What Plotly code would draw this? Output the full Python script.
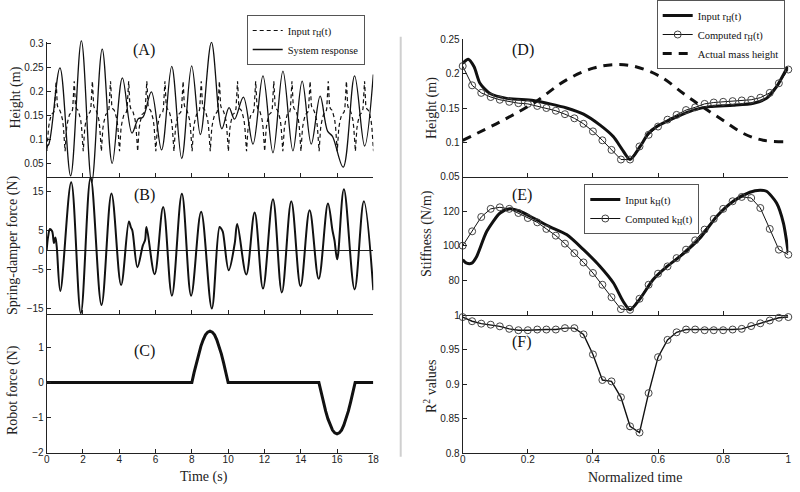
import plotly.graph_objects as go

W, H = 800, 492

# ---------------- data ----------------
# Panel A: system response (m) vs time (s)
resp_t = [0, 0.12, 0.73, 1.32, 1.91, 2.48, 3.06, 3.61, 4.17, 4.70, 5.05, 5.30, 5.77, 6.33, 6.89, 7.44,
          7.99, 8.47, 9.08, 9.65, 10.05, 10.35, 10.84, 11.37, 11.92, 12.47, 13.02, 13.57, 14.08, 14.58,
          15.07, 15.48, 15.75, 16.34, 16.97, 17.52, 18.0]
resp_v = [0.085, 0.09, 0.249, 0.024, 0.305, 0.010, 0.288, 0.050, 0.228, 0.113, 0.143, 0.146, 0.199, 0.078,
          0.252, 0.060, 0.253, 0.110, 0.302, 0.122, 0.166, 0.142, 0.188, 0.090, 0.232, 0.072, 0.242, 0.076,
          0.221, 0.090, 0.190, 0.117, 0.106, 0.042, 0.232, 0.086, 0.235]

# Input r_H(t): one period as drawn in panel D (normalized time), repeated every second in panel A
rH_u = [0, 0.017, 0.035, 0.053, 0.084, 0.135, 0.217, 0.268, 0.319, 0.371, 0.422, 0.463, 0.488, 0.514,
        0.545, 0.570, 0.596, 0.657, 0.708, 0.759, 0.831, 0.893, 0.933, 0.964, 0.998]
rH_v = [0.215, 0.221, 0.210, 0.186, 0.171, 0.164, 0.161, 0.156, 0.150, 0.141, 0.125, 0.108, 0.091, 0.075,
        0.094, 0.113, 0.123, 0.137, 0.147, 0.152, 0.154, 0.157, 0.164, 0.181, 0.210]
input_period_s = 1.0
input_phase_s = -0.5
input_cycles = list(range(0, 19))

# Panel B: spring-damper force (N)
force_t = [0, 0.08, 0.18, 0.30, 0.40, 0.48, 0.55, 0.75, 1.35, 1.88, 2.42, 3.02, 3.57, 4.10, 4.53, 4.64,
           4.72, 5.00, 5.30, 5.42, 5.50, 5.95, 6.42, 6.90, 7.45, 7.96, 8.51, 9.10, 9.53, 9.63, 9.71, 10.03,
           10.36, 10.50, 11.00, 11.46, 11.92, 12.47, 12.96, 13.48, 13.99, 14.49, 14.99, 15.50, 15.75,
           15.86, 16.01, 16.38, 16.97, 17.48, 18.0]
force_v = [0, 3.5, 5.4, 4.8, 1.8, 3.2, 1.0, -10.5, 17.4, -16.2, 18.6, -14.1, 14.5, -9.0, 7.3, 5.8,
           5.0, -4.4, 1.2, 2.5, 5.9, -6.2, 11.0, -11.7, 14.4, -11.7, 9.8, -15.0, 5.9, 5.4, 4.6, -5.2,
           1.6, 6.7, -6.3, 9.6, -9.9, 13.0, -10.9, 12.5, -9.3, 10.2, -7.4, 11.9, 5.0,
           2.5, -2.4, 15.6, -10.1, 12.5, -10.3]

# Panel C: robot force (N)
robot_t = [0, 8, 8.125, 8.25, 8.375, 8.5, 8.625, 8.75, 8.875, 9, 9.125, 9.25, 9.375, 9.5, 9.625, 9.75,
           9.875, 10, 15, 15.125, 15.25, 15.375, 15.5, 15.625, 15.75, 15.875, 16, 16.125, 16.25, 16.375,
           16.5, 16.625, 16.75, 16.875, 17, 18]
robot_v = [0, 0, 0.29, 0.56, 0.82, 1.04, 1.22, 1.36, 1.44, 1.47, 1.44, 1.36, 1.22, 1.04, 0.82, 0.56,
           0.29, 0, 0, -0.29, -0.56, -0.82, -1.04, -1.22, -1.36, -1.44, -1.47, -1.44, -1.36, -1.22,
           -1.04, -0.82, -0.56, -0.29, 0, 0]

# Right panels: normalized time of the computed samples
norm_u = [0, 0.029, 0.057, 0.086, 0.114, 0.143, 0.171, 0.2, 0.229, 0.257, 0.286, 0.314, 0.343, 0.371,
          0.4, 0.429, 0.457, 0.486, 0.514, 0.543, 0.571, 0.6, 0.629, 0.657, 0.686, 0.714, 0.743, 0.771,
          0.8, 0.829, 0.857, 0.886, 0.914, 0.943, 0.971, 1.0]

# Panel D
rc_v = [0.211, 0.183, 0.172, 0.166, 0.162, 0.159, 0.157, 0.156, 0.153, 0.150, 0.146, 0.141, 0.135, 0.127,
        0.116, 0.103, 0.089, 0.075, 0.075, 0.094, 0.111, 0.123, 0.133, 0.140, 0.147, 0.151, 0.156, 0.158,
        0.159, 0.160, 0.161, 0.162, 0.165, 0.172, 0.186, 0.206]
mass_u = [0, 0.115, 0.217, 0.319, 0.401, 0.463, 0.524, 0.606, 0.678, 0.729, 0.790, 0.862, 0.923, 0.985]
mass_v = [0.103, 0.130, 0.157, 0.191, 0.208, 0.213, 0.211, 0.196, 0.171, 0.154, 0.135, 0.113, 0.103, 0.101]

# Panel E
kin_u = [0, 0.012, 0.028, 0.043, 0.074, 0.115, 0.145, 0.176, 0.217, 0.268, 0.319, 0.371, 0.422, 0.463,
         0.493, 0.514, 0.545, 0.585, 0.626, 0.678, 0.729, 0.780, 0.831, 0.882, 0.913, 0.933, 0.964,
         0.985, 1.0]
kin_v = [92.0, 90.0, 90.0, 93.9, 108.4, 119.0, 121.4, 120.0, 116.1, 111.0, 106.5, 97.8, 88.1, 78.5,
         67.8, 63.0, 69.5, 80.5, 87.8, 95.5, 104.5, 117.0, 125.8, 131.0, 132.2, 131.6, 124.8,
         113.2, 95.8]
kc_v = [100.1, 108.4, 116.7, 121.4, 122.3, 121.4, 119.0, 116.1, 113.6, 109.8, 105.9, 101.3, 95.8, 90.4,
        84.3, 77.5, 70.3, 63.4, 63.0, 69.4, 77.5, 83.9, 88.1, 92.9, 97.8, 103.2, 109.4, 115.6, 121.4,
        125.8, 128.3, 127.7, 121.9, 109.8, 97.8, 94.9]

# Panel F
r2_v = [0.997, 0.991, 0.9875, 0.986, 0.9836, 0.980, 0.978, 0.978, 0.979, 0.979, 0.979, 0.981, 0.981,
        0.972, 0.943, 0.906, 0.904, 0.881, 0.839, 0.830, 0.887, 0.939, 0.964, 0.975, 0.979, 0.979,
        0.978, 0.978, 0.978, 0.979, 0.980, 0.984, 0.988, 0.992, 0.996, 0.997]

time_ticks = [0, 2, 4, 6, 8, 10, 12, 14, 16, 18]
norm_ticks = [0, 0.2, 0.4, 0.6, 0.8, 1]
norm_tick_text = ["0", "0.2", "0.4", "0.6", "0.8", "1"]

# ---------------- build input series for panel A ----------------
a_in_t = [k * input_period_s + input_phase_s + u * input_period_s for k in input_cycles for u in rH_u[:-1]]
a_in_v = [v for k in input_cycles for v in rH_v[:-1]]

# ---------------- layout helpers ----------------
def vy(py):
    return 1 - py / H

def vx(px):
    return px / W

LX = [vx(46.7), vx(373.3)]
RX = [vx(462.7), vx(788.3)]
INK = '#111'
SERIF = 'Liberation Serif, Times New Roman, serif'
SANS = 'Liberation Sans, Arial, sans-serif'

fig = go.Figure()

# empty traces so that the framed axes of panels A and B are drawn
for xa, ya in [('x', 'y'), ('x2', 'y2')]:
    fig.add_trace(go.Scatter(x=[None], y=[None], mode='lines', showlegend=False, hoverinfo='skip',
                             xaxis=xa, yaxis=ya))

# Panel A
fig.add_trace(go.Scatter(x=a_in_t, y=a_in_v, mode='lines', name='Input r<sub>H</sub>(t)',
                         line=dict(color=INK, width=1.2, dash='4px,3px'), xaxis='x', yaxis='y7',
                         legend='legend'))
fig.add_trace(go.Scatter(x=resp_t, y=resp_v, mode='lines', name='System response',
                         line=dict(color=INK, width=1.3, shape='spline', smoothing=1.0),
                         xaxis='x', yaxis='y7', legend='legend'))
# Panel B
fig.add_trace(go.Scatter(x=force_t, y=force_v, mode='lines', showlegend=False,
                         line=dict(color=INK, width=2, shape='spline', smoothing=1.0),
                         xaxis='x2', yaxis='y8'))
# Panel C
fig.add_trace(go.Scatter(x=robot_t, y=robot_v, mode='lines', showlegend=False,
                         line=dict(color=INK, width=3), xaxis='x3', yaxis='y3'))

marker_style = dict(symbol='circle-open', size=7, color='#444', line=dict(width=1, color='#444'))

# Panel D
fig.add_trace(go.Scatter(x=rH_u, y=rH_v, mode='lines', name='Input r<sub>H</sub>(t)',
                         line=dict(color=INK, width=3, shape='spline', smoothing=0.7),
                         xaxis='x4', yaxis='y4', legend='legend2'))
fig.add_trace(go.Scatter(x=norm_u, y=rc_v, mode='lines+markers', name='Computed r<sub>H</sub>(t)',
                         line=dict(color=INK, width=1), marker=marker_style, cliponaxis=False,
                         xaxis='x4', yaxis='y4', legend='legend2'))
fig.add_trace(go.Scatter(x=mass_u, y=mass_v, mode='lines', name='Actual mass height',
                         line=dict(color=INK, width=3, dash='9px,7px', shape='spline'),
                         xaxis='x4', yaxis='y4', legend='legend2'))
# Panel E
fig.add_trace(go.Scatter(x=kin_u, y=kin_v, mode='lines', name='Input k<sub>H</sub>(t)',
                         line=dict(color=INK, width=3, shape='spline', smoothing=0.7),
                         xaxis='x5', yaxis='y5', legend='legend3'))
fig.add_trace(go.Scatter(x=norm_u, y=kc_v, mode='lines+markers', name='Computed k<sub>H</sub>(t)',
                         line=dict(color=INK, width=1), marker=marker_style, cliponaxis=False,
                         xaxis='x5', yaxis='y5', legend='legend3'))
# Panel F
fig.add_trace(go.Scatter(x=norm_u, y=r2_v, mode='lines+markers', showlegend=False,
                         line=dict(color=INK, width=1.4), marker=marker_style, cliponaxis=False,
                         xaxis='x6', yaxis='y6'))

ax = dict(showgrid=False, zeroline=False, showline=True, linecolor='#222', linewidth=1,
          ticks='inside', ticklen=4, tickcolor='#222', tickwidth=1,
          tickfont=dict(family=SANS, size=10, color='#222'))

def xax(domain, rng, anchor, ticks, labels=None, show=False):
    d = dict(ax, domain=domain, range=rng, anchor=anchor, tickvals=ticks, showticklabels=show)
    if labels is not None:
        d['ticktext'] = labels
    if show:
        d['ticklabelstandoff'] = -3
    return d

def yax(py_top, py_bot, rng, anchor, ticks, labels):
    return dict(ax, domain=[vy(py_bot), vy(py_top)], range=rng, anchor=anchor,
                tickvals=ticks, ticktext=labels)

layout = dict(
    width=W, height=H, margin=dict(l=0, r=0, t=0, b=0, autoexpand=False),
    paper_bgcolor='white', plot_bgcolor='rgba(0,0,0,0)',
    font=dict(family=SERIF, color='#111'),
    xaxis=xax(LX, [0, 18], 'y', time_ticks),
    xaxis2=xax(LX, [0, 18], 'y2', time_ticks),
    xaxis3=xax(LX, [0, 18], 'y3', time_ticks, [str(t) for t in time_ticks], True),
    xaxis4=xax(RX, [0, 1], 'y4', norm_ticks, norm_tick_text),
    xaxis5=xax(RX, [0, 1], 'y5', norm_ticks, norm_tick_text),
    xaxis6=xax(RX, [0, 1], 'y6', norm_ticks, norm_tick_text, True),
    yaxis=yax(41.7, 177.3, [0.02083, 0.30333], 'x', [0.05, 0.1, 0.15, 0.2, 0.25, 0.3],
              ['0.05', '0.1', '0.15', '0.2', '0.25', '0.3']),
    yaxis2=yax(177.3, 314, [-16.41, 18.64], 'x2', [-15, -5, 0, 5, 15],
               ['\u221215', '\u22125', '0', '5', '15']),
    yaxis3=yax(314, 452.5, [-2, 1.957], 'x3', [-2, -1, 0, 1], ['\u22122', '\u22121', '0', '1']),
    yaxis4=yax(39.3, 176.7, [0.05, 0.25], 'x4', [0.05, 0.1, 0.15, 0.2, 0.25],
               ['0.05', '0.1', '0.15', '0.2', '0.25']),
    yaxis5=yax(176.7, 315, [60, 140], 'x5', [80, 100, 120], ['80', '100', '120']),
    yaxis6=yax(315, 453.3, [0.8, 1.0], 'x6', [0.8, 0.85, 0.9, 0.95, 1],
               ['0.8', '0.85', '0.9', '0.95', '1']),
    # data axes for A and B (same scale, taller window so curves may cross the frame line)
    yaxis7=dict(domain=[vy(195), vy(36)], range=[-0.01604, 0.31521], anchor='x', visible=False),
    yaxis8=dict(domain=[vy(320), vy(160)], range=[-17.95, 23.08], anchor='x2', visible=False),
)
fig.update_layout(**layout)
fig.update_layout(yaxis2=dict(zeroline=True, zerolinecolor='#222', zerolinewidth=1))

leg = dict(bgcolor='white', bordercolor='#555', borderwidth=1, xanchor='left', yanchor='top',
           font=dict(family=SERIF, size=10.5, color='#111'), tracegroupgap=0, itemwidth=30)
fig.update_layout(
    legend=dict(leg, x=vx(246.7), y=vy(15)),
    legend2=dict(leg, x=vx(656.7), y=vy(0)),
    legend3=dict(leg, x=vx(584.3), y=vy(184)),
)

ann = []
for txt, px, py in [('(A)', 144, 50), ('(B)', 144, 195), ('(C)', 144, 351),
                    ('(D)', 523, 50), ('(E)', 522, 195), ('(F)', 522, 342)]:
    ann.append(dict(text=txt, x=vx(px), y=vy(py), xref='paper', yref='paper', showarrow=False,
                    font=dict(family=SERIF, size=16, color='#111'), xanchor='center', yanchor='middle'))
for txt, px, py in [('Height (m)', 15.5, 98), ('Spring-damper force (N)', 13, 245),
                    ('Robot force (N)', 13, 390), ('Height (m)', 432, 108),
                    ('Stiffness (N/m)', 427, 233), ('R<sup>2</sup> values', 430, 386)]:
    ann.append(dict(text=txt, x=vx(px), y=vy(py), xref='paper', yref='paper', showarrow=False,
                    textangle=-90, font=dict(family=SERIF, size=14, color='#222'),
                    xanchor='center', yanchor='middle'))
for txt, px, py in [('Time (s)', 204, 477), ('Normalized time', 635, 477)]:
    ann.append(dict(text=txt, x=vx(px), y=vy(py), xref='paper', yref='paper', showarrow=False,
                    font=dict(family=SERIF, size=14, color='#222'), xanchor='center', yanchor='middle'))
fig.update_layout(annotations=ann)

fig.add_shape(type='line', xref='paper', yref='paper', x0=vx(400.7), x1=vx(400.7),
              y0=vy(456.7), y1=vy(36.7), line=dict(color='#cfcfcf', width=2))

# place the figure at the page origin (no default body margin), no toolbar
fig.write_html('out.html', config={'displayModeBar': False},
               post_script="document.body.style.margin='0px';")
